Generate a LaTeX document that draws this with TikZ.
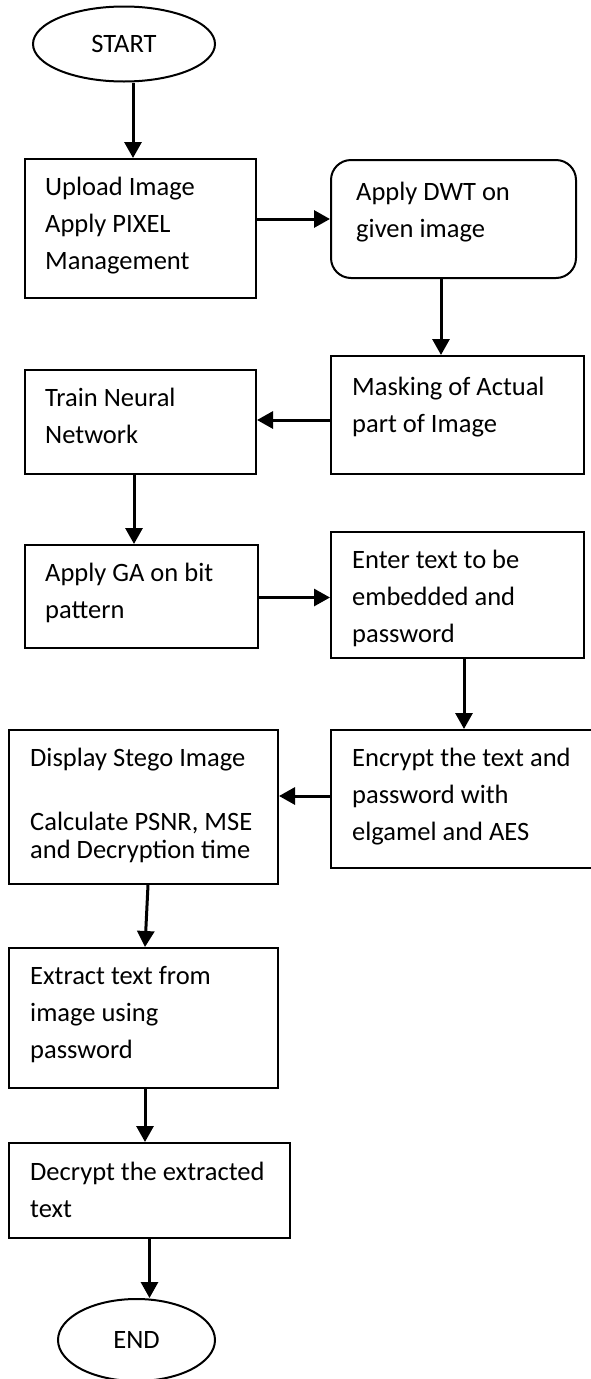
\documentclass[tikz,border=0pt]{standalone}
\usepackage{fontspec}
\setmainfont{Carlito}
\usetikzlibrary{arrows.meta,shapes.geometric}
\begin{document}
\begin{tikzpicture}[x=1pt,y=-1pt,
  box/.style={draw, line width=2pt, rectangle, inner sep=0pt, anchor=north west},
  rbox/.style={box, rounded corners=20pt},
  oval/.style={draw, line width=2pt, ellipse, inner sep=0pt, font=\fontsize{26.5}{37}\selectfont},
  txt/.style={anchor=base west, inner sep=0pt, align=left, font=\fontsize{26.5}{37}\selectfont},
  arr/.style={line width=3pt, -{Triangle[length=16pt,width=17pt]}}
]
\useasboundingbox (0,0) rectangle (590,1379);

% shapes
\node[oval, minimum width=182pt, minimum height=75pt] (start) at (124,44) {START};
\node[box, minimum width=231pt, minimum height=139pt] (upload) at (24,158) {};
\node[rbox, minimum width=245pt, minimum height=118pt] (dwt) at (330,159) {};
\node[box, minimum width=253pt, minimum height=118pt] (mask) at (330,355) {};
\node[box, minimum width=231pt, minimum height=104pt] (train) at (24,369) {};
\node[box, minimum width=233pt, minimum height=103pt] (ga) at (24,544) {};
\node[box, minimum width=253pt, minimum height=126pt] (enter) at (330,531) {};
\node[box, minimum width=270pt, minimum height=138pt] (encrypt) at (330,729) {};
\node[box, minimum width=269pt, minimum height=154pt] (display) at (8,729) {};
\node[box, minimum width=269pt, minimum height=140pt] (extract) at (8,947) {};
\node[box, minimum width=281pt, minimum height=95pt] (decrypt) at (8,1142) {};
\node[oval, minimum width=157pt, minimum height=82pt] (end) at (136.5,1340) {END};

% texts (anchored at the baseline of their last line)
\node[txt] (t1) at (45,269) {Upload Image\\Apply PIXEL\\Management};
\node[txt] (t2) at (356,237) {Apply DWT on\\given image};
\node[txt] (t3) at (352,432) {Masking of Actual\\part of Image};
\node[txt] (t4) at (45,443) {Train Neural\\Network};
\node[txt] (t5) at (45,618) {Apply GA on bit\\pattern};
\node[txt] (t6) at (352,642) {Enter text to be\\embedded and\\password};
\node[txt] (t7) at (352,840) {Encrypt the text and\\password with\\elgamel and AES};
\node[txt, font=\fontsize{26.5}{28}\selectfont] (t8) at (30,858) {Display Stego Image\\[36pt]Calculate PSNR, MSE\\and Decryption time};
\node[txt] (t9) at (30,1058) {Extract text from\\image using\\password};
\node[txt] (t10) at (30,1217) {Decrypt the extracted\\text};

% connectors
\draw[arr] ([xshift=9pt]start.south) coordinate (a1) -- (a1 |- upload.north);
\draw[arr] (upload.east |- dwt.west) -- (dwt.west);
\draw[arr] ([xshift=-12.5pt]dwt.south) coordinate (a2) -- (a2 |- mask.north);
\draw[arr] ([yshift=-5pt]mask.west) coordinate (a3) -- (a3 -| train.east);
\draw[arr] ([xshift=-6.5pt]train.south) coordinate (a4) -- (a4 |- ga.north);
\draw[arr] ([yshift=-1pt]ga.east) coordinate (a9) -- (a9 -| enter.west);
\draw[arr] ([xshift=6.5pt]enter.south) coordinate (a5) -- (a5 |- encrypt.north);
\draw[arr] ([yshift=3pt]encrypt.west) coordinate (a6) -- (a6 -| display.east);
\draw[arr] ([xshift=4.5pt]display.south) -- ([xshift=1.5pt]extract.north);
\draw[arr] ([xshift=1.5pt]extract.south) coordinate (a7) -- (a7 |- decrypt.north);
\draw[arr] (decrypt.south) coordinate (a8) -- (a8 |- end.north);
\end{tikzpicture}
\end{document}
